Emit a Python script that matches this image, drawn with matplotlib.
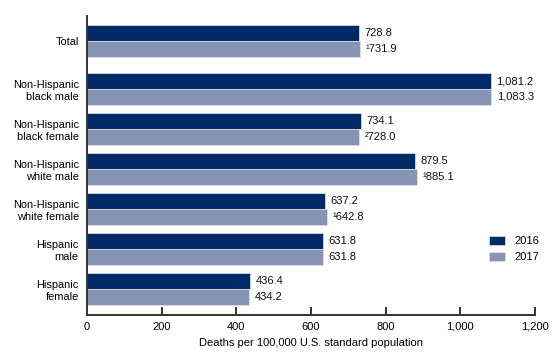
import numpy as np
import matplotlib
matplotlib.use("Agg")
import matplotlib.pyplot as plt

matplotlib.rcParams.update({
    "font.family": ["Liberation Sans", "DejaVu Sans"],
    "font.size": 8,
    "axes.spines.right": False,
    "axes.spines.top": False,
})

categories = [
    "Total",
    "Non-Hispanic\nblack male",
    "Non-Hispanic\nblack female",
    "Non-Hispanic\nwhite male",
    "Non-Hispanic\nwhite female",
    "Hispanic\nmale",
    "Hispanic\nfemale",
]
rates_2016 = [728.8, 1081.2, 734.1, 879.5, 637.2, 631.8, 436.4]
rates_2017 = [731.9, 1083.3, 728.0, 885.1, 642.8, 631.8, 434.2]
notes_2017 = ["\u00b9", "", "\u00b2", "\u00b9", "\u00b9", "", ""]
series_labels = ["2016", "2017"]
xticks = [0, 200, 400, 600, 800, 1000, 1200]

color_2016 = "#002b66"
color_2017 = "#8696b2"

fig = plt.figure(figsize=(5.6, 3.6), dpi=100)
ax = fig.add_axes([87 / 560, 45 / 360, 448 / 560, 299 / 360])

# Total sits a little apart from the other groups
pos = np.array([0.0] + [1.2 + i for i in range(len(categories) - 1)])
h = 0.39

b1 = ax.barh(pos - h / 2, rates_2016, height=h, color=color_2016,
             edgecolor="#dfe4ec", linewidth=0.5, label=series_labels[0])
b2 = ax.barh(pos + h / 2, rates_2017, height=h, color=color_2017,
             edgecolor="#dfe4ec", linewidth=0.5, label=series_labels[1])

ax.bar_label(b1, labels=[f"{v:,.1f}" for v in rates_2016], padding=4,
             fontsize=8, color="#111111")
ax.bar_label(b2, labels=[n + f"{v:,.1f}" for n, v in zip(notes_2017, rates_2017)],
             padding=4, fontsize=8, color="#111111")

ax.set_ylim(6.85, -0.625)
ax.set_xlim(0, 1200)
ax.set_yticks(pos, categories)
ax.tick_params(axis="y", length=0, pad=6, labelsize=7.9)
for lbl in ax.get_yticklabels():
    lbl.set_horizontalalignment("right")
    lbl.set_multialignment("right")
    lbl.set_linespacing(1.3)

ax.set_xticks(xticks, [f"{t:,}" for t in xticks])
ax.tick_params(axis="x", direction="in", length=6, width=1.3, pad=5, color="#222222")
ax.xaxis.get_major_ticks()[0].tick1line.set_visible(False)
ax.set_xlabel("Deaths per 100,000 U.S. standard population", labelpad=4)

for s in ["left", "bottom"]:
    ax.spines[s].set_linewidth(1.4)
    ax.spines[s].set_color("#333333")

ax.legend(loc="center left", bbox_to_anchor=(479 / 560, 1 - 249 / 360),
          bbox_transform=fig.transFigure, frameon=False, fontsize=8,
          handlelength=1.45, handleheight=0.9, handletextpad=0.8, labelspacing=0.55)

fig.savefig("out.png", dpi=100)
